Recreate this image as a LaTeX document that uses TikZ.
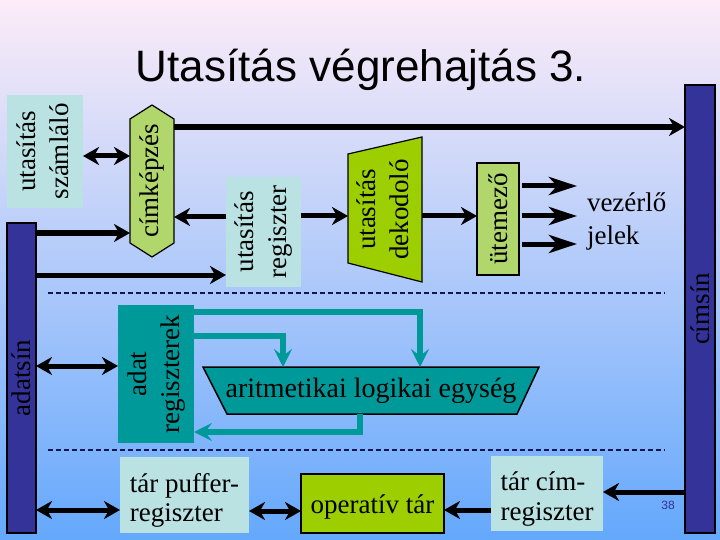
\documentclass[tikz,border=0pt]{standalone}
\usepackage{graphicx}
\usepackage{fontspec}
\setmainfont{Liberation Serif}
\newfontfamily\sansfam{Liberation Sans}
\usetikzlibrary{arrows.meta,calc}
\pgfdeclarelayer{bgl}
\pgfdeclarelayer{shapel}
\pgfsetlayers{bgl,shapel,main}

\definecolor{lcyan}{RGB}{186,226,226}
\definecolor{lgreen}{RGB}{176,214,108}
\definecolor{vgreen}{RGB}{156,206,0}
\definecolor{tealc}{RGB}{0,153,153}
\definecolor{busc}{RGB}{51,51,153}
\definecolor{dashc}{RGB}{20,20,80}
\definecolor{bgtop}{RGB}{252,236,248}
\definecolor{bgmid}{RGB}{172,202,250}
\definecolor{bgbot}{RGB}{100,168,252}

\newcommand\txt{\fontsize{27}{33}\selectfont}
\newcommand\txtb{\fontsize{27}{29.5}\selectfont}
\newcommand\rtext[1]{\rotatebox{90}{\begin{tabular}{@{}c@{}}#1\end{tabular}}}
\newcommand\btext[1]{\raisebox{-6pt}[\height][\depth]{\txtb\begin{tabular}{@{}l@{}}#1\end{tabular}}}

\begin{document}
\begin{tikzpicture}[x=1pt,y=-1pt,
  every node/.style={inner sep=0pt, outer sep=0pt, font=\txt},
  lbox/.style={fill=lcyan},
  busbar/.style={fill=busc, draw=black, line width=1.5pt},
  gbox/.style={fill=lgreen, draw=black, line width=1.2pt},
  blkarr/.style={line width=5pt, -{Stealth[length=16pt,width=18pt,inset=5pt]}},
  dblarr/.style={line width=5pt, {Stealth[length=16pt,width=18pt,inset=5pt]}-{Stealth[length=16pt,width=18pt,inset=5pt]}},
  longarr/.style={line width=5pt, -{Stealth[length=28pt,width=18pt,inset=8pt]}},
  tarr/.style={draw=tealc, line width=5.5pt, -{Stealth[length=18pt,width=18pt,inset=7pt]}},
  seprule/.style={draw=dashc, line width=1.3pt, dash pattern=on 5pt off 3pt}]

\begin{pgfonlayer}{bgl}
\shade[top color=bgtop, middle color=bgmid, bottom color=bgbot] (0,0) rectangle (720,540);
\end{pgfonlayer}
\useasboundingbox (0,0) rectangle (720,540);

% title
\node[font=\sansfam\fontsize{44}{50}\selectfont, anchor=base] (title) at (361,82) {Utasítás végrehajtás 3.};

% nodes
\node[lbox, minimum width=76pt, minimum height=113pt] (pc) at (45,151.5) {\rtext{utasítás\\számláló}};
\node[minimum width=44pt, minimum height=152pt] (ck) at (152,181) {\rotatebox{90}{címképzés}};
\node[lbox, minimum width=75pt, minimum height=110pt] (ir) at (263.5,232) {\rtext{utasítás\\regiszter}};
\node[minimum width=74pt, minimum height=145pt] (dek) at (385,209.5) {\rtext{utasítás\\dekodoló}};
\node[gbox, minimum width=42pt, minimum height=112pt] (ut) at (498,219) {\rotatebox{90}{ütemező}};
\node[anchor=west, align=left] (vj) at (587,221) {vezérlő\\jelek};
\node[busbar, minimum width=30pt, minimum height=448pt] (cs) at (700,309) {\rotatebox{90}{címsín}};
\node[busbar, minimum width=29pt, minimum height=310pt] (as) at (21.5,378) {\rotatebox{90}{adatsín}};
\node[fill=tealc, minimum width=76pt, minimum height=138pt] (ar) at (156,374) {\rtext{adat\\regiszterek}};
\node[minimum width=336pt, minimum height=47pt, font=\fontsize{28}{33}\selectfont] (alu) at (371,390.5) {aritmetikai logikai egység};
\node[lbox, minimum width=129pt, minimum height=76pt] (tp) at (184.5,495) {\btext{tár puffer-\\regiszter}};
\node[fill=vgreen, draw=black, line width=1.2pt, minimum width=143pt, minimum height=59pt] (op) at (372.5,503.5) {\raisebox{-3pt}[\height][\depth]{operatív tár}};
\node[lbox, minimum width=112pt, minimum height=75pt] (tc) at (547,493.5) {\btext{tár cím-\\regiszter}};
\node[font=\sansfam\fontsize{12}{14}\selectfont, text=busc] (pg) at (668,505) {38};

% shapes behind texts
\begin{pgfonlayer}{shapel}
\draw[fill=lgreen, line width=1.2pt] (ck.north) -- ([yshift=-14pt]ck.north east) -- ([yshift=14pt]ck.south east)
  -- (ck.south) -- ([yshift=14pt]ck.south west) -- ([yshift=-14pt]ck.north west) -- cycle;
\draw[fill=vgreen, line width=1.2pt] ([yshift=-17pt]dek.north west) -- (dek.north east) -- (dek.south east)
  -- ([yshift=19pt]dek.south west) -- cycle;
\draw[fill=tealc, line width=1.5pt] (alu.north west) -- (alu.north east) -- ([xshift=-22pt]alu.south east)
  -- ([xshift=24pt]alu.south west) -- cycle;
\end{pgfonlayer}

% helper levels
\foreach \y in {127,156,186,216,217,233,244,275,312,336,366,432,492,510,511}
  \coordinate (h\y) at (0,\y);
\coordinate (o1) at (577,186);
\coordinate (o2) at (577,216);
\coordinate (o3) at (577,244);
\coordinate (da1) at (48,293);
\coordinate (da2) at (665,293);
\coordinate (db1) at (48,450);
\coordinate (db2) at (665,450);

% separators
\draw[seprule] (da1) -- (da2);
\draw[seprule] (db1) -- (db2);

% connectors
\draw[blkarr, line width=6pt] (ck.east |- h127) -- (cs.west |- h127);
\draw[dblarr] (pc.east |- h156) -- (ck.west |- h156);
\draw[blkarr] (as.east |- h233) -- (ck.west |- h233);
\draw[blkarr] (as.east |- h275) -- (ir.west |- h275);
\draw[blkarr] (ir.west |- h217) -- (ck.east |- h217);
\draw[blkarr] (ir.east |- h216) -- (dek.west |- h216);
\draw[blkarr] (dek.east |- h216) -- (ut.west |- h216);
\draw[longarr] ($(ut.east |- h186)+(3,0)$) -- (o1);
\draw[longarr] ($(ut.east |- h216)+(3,0)$) -- (o2);
\draw[longarr] ($(ut.east |- h244)+(3,0)$) -- (o3);
\draw[dblarr] (as.east |- h366) -- (ar.west |- h366);
\draw[tarr] (ar.east |- h312) -| ([xshift=49pt]alu.north);
\draw[tarr] (ar.east |- h336) -| ([xshift=-88pt]alu.north);
\draw[tarr] ([xshift=-11pt]alu.south) |- (ar.east |- h432);
\draw[dblarr] (as.east |- h510) -- (tp.west |- h510);
\draw[dblarr] (tp.east |- h511) -- (op.west |- h511);
\draw[blkarr] (tc.west |- h510) -- (op.east |- h510);
\draw[blkarr] (cs.west |- h492) -- (tc.east |- h492);
\end{tikzpicture}
\end{document}
